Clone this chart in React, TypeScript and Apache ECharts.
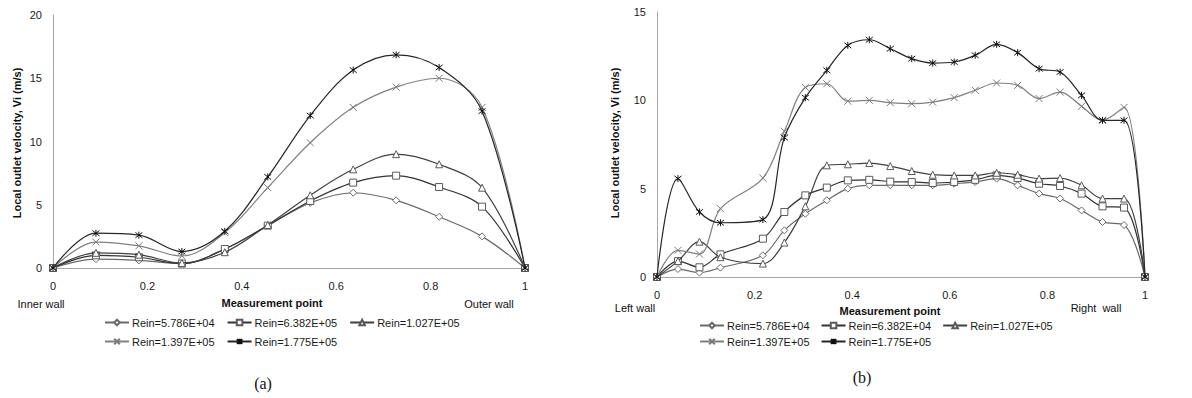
import React, { useEffect, useRef } from "react";
import * as echarts from "echarts";

// ---------- data (a) ----------
const LEFT_X = [0, 0.091, 0.182, 0.273, 0.364, 0.455, 0.545, 0.636, 0.727, 0.818, 0.909, 1];
const LEFT_S1 = [0, 0.7, 0.6, 0.35, 1.5, 3.35, 5.15, 5.95, 5.35, 4.05, 2.5, 0];
const LEFT_S2 = [0, 1.0, 0.85, 0.35, 1.5, 3.35, 5.3, 6.75, 7.3, 6.4, 4.85, 0];
const LEFT_S3 = [0, 1.2, 1.05, 0.4, 1.25, 3.4, 5.75, 7.8, 9.0, 8.2, 6.35, 0];
const LEFT_S4 = [0, 2.05, 1.75, 0.95, 2.8, 6.35, 9.9, 12.7, 14.3, 15.0, 12.7, 0];
const LEFT_S5 = [0, 2.75, 2.6, 1.3, 2.9, 7.2, 12.05, 15.65, 16.85, 15.85, 12.4, 0];
const LEFT_NAMES = ["Rein=5.786E+04", "Rein=6.382E+05", "Rein=1.027E+05", "Rein=1.397E+05", "Rein=1.775E+05"];

// ---------- data (b) ----------
const RIGHT_X = [0, 0.043, 0.087, 0.13, 0.217, 0.261, 0.304, 0.348, 0.391, 0.435, 0.478, 0.522, 0.565, 0.609, 0.652, 0.696, 0.739, 0.783, 0.826, 0.87, 0.913, 0.957, 1];
const RIGHT_S1 = [0, 0.45, 0.25, 0.53, 1.23, 2.64, 3.58, 4.34, 5.0, 5.19, 5.19, 5.19, 5.19, 5.28, 5.38, 5.57, 5.19, 4.72, 4.44, 3.77, 3.11, 2.94, 0];
const RIGHT_S2 = [0, 0.9, 0.55, 1.28, 2.17, 3.68, 4.62, 5.06, 5.47, 5.5, 5.4, 5.38, 5.32, 5.38, 5.5, 5.75, 5.6, 5.28, 5.15, 4.72, 4.0, 3.93, 0];
const RIGHT_S3 = [0, 0.9, 2.0, 1.12, 0.76, 1.95, 4.0, 6.32, 6.38, 6.45, 6.28, 6.0, 5.79, 5.75, 5.75, 5.9, 5.79, 5.57, 5.6, 5.19, 4.44, 4.44, 0];
const RIGHT_S4 = [0, 1.51, 1.3, 3.87, 5.6, 8.25, 10.73, 10.94, 9.95, 10.0, 9.87, 9.81, 9.9, 10.15, 10.57, 10.98, 10.85, 10.1, 10.47, 9.66, 8.87, 9.6, 0];
const RIGHT_S5 = [0, 5.57, 3.68, 3.07, 3.25, 7.89, 10.15, 11.7, 13.11, 13.43, 12.92, 12.36, 12.11, 12.17, 12.55, 13.17, 12.7, 11.79, 11.6, 10.28, 8.87, 8.87, 0];
const RIGHT_NAMES = ["Rein=5.786E+04", "Rein=6.382E+04", "Rein=1.027E+05", "Rein=1.397E+05", "Rein=1.775E+05"];

const X_TICKS_INTERVAL = 0.2;

const FONT = "'Liberation Sans', Arial, sans-serif";
const X_MARK = "path://M0,0L10,10M10,0L0,10";
const STAR_MARK = "path://M0,0L10,10M10,0L0,10M5,-1.5L5,11.5";

const STYLES = [
  { symbol: "diamond", line: "#6a6a6a", mark: "#6a6a6a", size: 7 },
  { symbol: "rect", line: "#333333", mark: "#5a5a5a", size: 7 },
  { symbol: "triangle", line: "#404040", mark: "#5a5a5a", size: 7 },
  { symbol: X_MARK, line: "#808080", mark: "#7a7a7a", size: 7 },
  { symbol: STAR_MARK, line: "#262626", mark: "#111111", size: 7 },
];

function mkSeries(name: string, xs: number[], ys: number[], idx: number, axis: number) {
  const st = STYLES[idx];
  return {
    type: "line",
    name,
    xAxisIndex: axis,
    yAxisIndex: axis,
    data: xs.map((x, i) => [x, ys[i]]),
    smooth: 0.35,
    symbol: st.symbol,
    symbolSize: st.size,
    showSymbol: true,
    z: 2 + idx,
    lineStyle: { color: st.line, width: 1.2 },
    itemStyle: { color: "#ffffff", borderColor: st.mark, borderWidth: 1 },
    emphasis: { disabled: true },
  };
}

function legend(left: number, top: number, names: string[], gap: number) {
  return {
    left,
    top,
    orient: "horizontal",
    itemWidth: 24,
    itemHeight: 7,
    itemGap: gap,
    selectedMode: false,
    data: names,
    textStyle: { fontSize: 11, fontFamily: FONT, color: "#1a1a1a", padding: [0, 0, 0, -2] },
  };
}

function xAxis(grid: number) {
  return {
    type: "value",
    gridIndex: grid,
    min: 0,
    max: 1,
    interval: X_TICKS_INTERVAL,
    axisLine: { show: true, lineStyle: { color: "#a6a6a6", width: 1 } },
    axisTick: { show: false },
    splitLine: { show: false },
    axisLabel: { fontSize: 11, fontFamily: FONT, color: "#1a1a1a", margin: 12 },
  };
}

function yAxis(grid: number, max: number) {
  return {
    type: "value",
    gridIndex: grid,
    min: 0,
    max,
    interval: 5,
    axisLine: { show: true, lineStyle: { color: "#a6a6a6", width: 1 } },
    axisTick: { show: false },
    splitLine: { show: false },
    axisLabel: { fontSize: 11, fontFamily: FONT, color: "#1a1a1a", margin: 11 },
  };
}

function txt(x: number, y: number, text: string, font: string, rotation = 0) {
  return {
    type: "text",
    x,
    y,
    rotation,
    style: { text, font, fill: "#111", align: "center", verticalAlign: "middle" },
  };
}

export default function App() {
  const ref = useRef<HTMLDivElement>(null);
  useEffect(() => {
    document.body.style.margin = "0";
    const chart = echarts.init(ref.current!, null, { renderer: "svg" });
    const leftData = [LEFT_S1, LEFT_S2, LEFT_S3, LEFT_S4, LEFT_S5];
    const rightData = [RIGHT_S1, RIGHT_S2, RIGHT_S3, RIGHT_S4, RIGHT_S5];
    const series: any[] = [];
    leftData.forEach((d, i) => series.push(mkSeries(LEFT_NAMES[i], LEFT_X, d, i, 0)));
    rightData.forEach((d, i) => series.push(mkSeries(RIGHT_NAMES[i], RIGHT_X, d, i, 1)));
    const bold = `bold 11px ${FONT}`;
    const small = `11px ${FONT}`;
    chart.setOption({
      animation: false,
      backgroundColor: "#ffffff",
      grid: [
        { left: 53, top: 15, width: 472, height: 253 },
        { left: 657, top: 12, width: 488, height: 265 },
      ],
      xAxis: [xAxis(0), xAxis(1)],
      yAxis: [yAxis(0, 20), yAxis(1, 15)],
      legend: [
        legend(99, 312, LEFT_NAMES.slice(0, 3), 12),
        legend(99, 331, LEFT_NAMES.slice(3), 12),
        legend(694, 315, RIGHT_NAMES.slice(0, 3), 11),
        legend(694, 331, RIGHT_NAMES.slice(3), 11),
      ],
      graphic: [
        txt(17, 143, "Local outlet velocity, Vi (m/s)", bold, Math.PI / 2),
        txt(615, 143, "Local outlet velocity, Vi (m/s)", bold, Math.PI / 2),
        txt(272, 303, "Measurement point", bold),
        txt(890, 311, "Measurement point", bold),
        txt(41, 304, "Inner wall", small),
        txt(489, 304, "Outer wall", small),
        txt(635, 308, "Left wall", small),
        txt(1096, 308, "Right  wall", small),
        txt(263, 383, "(a)", "16px 'Liberation Serif', 'Times New Roman', serif"),
        txt(862, 377, "(b)", "16px 'Liberation Serif', 'Times New Roman', serif"),
      ],
      series,
    });
    return () => chart.dispose();
  }, []);
  return <div ref={ref} style={{ width: 1192, height: 398 }} />;
}
